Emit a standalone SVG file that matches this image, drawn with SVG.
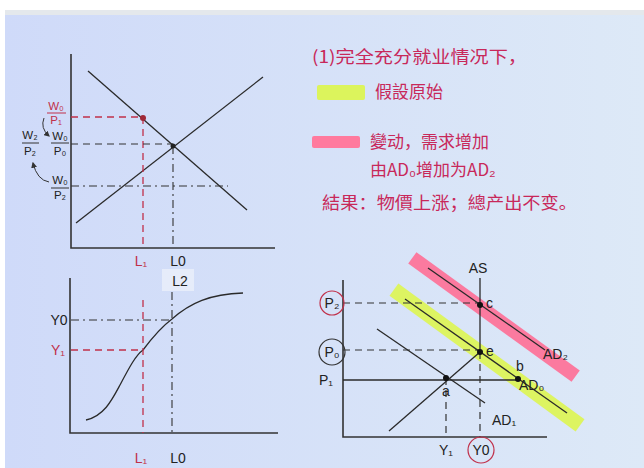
<svg xmlns="http://www.w3.org/2000/svg" width="644" height="468" viewBox="0 0 644 468">
<defs>
<linearGradient id="paper" x1="0" y1="0" x2="1" y2="0">
<stop offset="0" stop-color="#cfdaf9"/>
<stop offset="1" stop-color="#dde9f7"/>
</linearGradient>
<marker id="ah" viewBox="0 0 10 10" refX="8" refY="5" markerWidth="6" markerHeight="6" orient="auto-start-reverse">
<path d="M0,0 L10,5 L0,10 z" fill="#333"/>
</marker>
<style>
.ax{stroke:#333;stroke-width:1.6;fill:none}
.ln{stroke:#2a2a2a;stroke-width:1.3;fill:none}
.dk{stroke:#333;stroke-width:1.2;stroke-dasharray:7 5;fill:none}
.dd{stroke:#333;stroke-width:1.1;stroke-dasharray:8 4 2 4;fill:none}
.dr{stroke:#c0304a;stroke-width:1.3;stroke-dasharray:7 5;fill:none}
.t{font-family:"Liberation Sans","Noto Sans CJK SC",sans-serif;font-size:14px;fill:#222}
.f{font-size:11.5px}
.r{fill:#c0304a}
.cn{font-family:"Noto Sans CJK SC",sans-serif;font-size:17px;fill:#c8285a}
.fb{stroke:#333;stroke-width:1}
.fr{stroke:#c0304a;stroke-width:1}
</style>
</defs>
<rect width="644" height="468" fill="#ffffff"/>
<rect x="5" y="10" width="639" height="5" fill="#e4e8ec"/>
<rect x="5" y="15" width="639" height="453" fill="url(#paper)"/>

<g id="text-block">
<text class="cn" x="312" y="63" textLength="215" lengthAdjust="spacingAndGlyphs">(1)完全充分就业情况下，</text>
<rect x="317" y="85" width="48" height="15" rx="2" fill="#dcf45c"/>
<text class="cn" x="375" y="98">假設原始</text>
<rect x="312" y="136" width="48" height="12" rx="2" fill="#ff7a9e"/>
<text class="cn" x="370" y="148">變动，需求增加</text>
<text class="cn" x="370" y="176">由AD₀增加为AD₂</text>
<text class="cn" x="322" y="209" textLength="255" lengthAdjust="spacingAndGlyphs">結果：物價上涨；總产出不变。</text>
</g>

<g id="labor-market">
<path class="ax" d="M71,54 V248 H275"/>
<line class="ln" x1="88" y1="71" x2="247" y2="210"/>
<line class="ln" x1="76" y1="223" x2="263" y2="77"/>
<path class="dr" d="M71,117 H143 V248"/>
<path class="dk" d="M71,144 H173"/>
<path class="dd" d="M173,146 V248"/>
<path class="dd" d="M71,186 H228"/>
<circle cx="143" cy="118" r="3" fill="#a02838"/>
<circle cx="173" cy="146" r="2.5" fill="#222"/>
<text class="t r f" x="56" y="110" text-anchor="middle">W₀</text>
<line class="fr" x1="47" y1="113" x2="66" y2="113"/>
<text class="t r f" x="56" y="124" text-anchor="middle">P₁</text>
<text class="t f" x="60" y="140" text-anchor="middle">W₀</text>
<line class="fb" x1="51" y1="143" x2="69" y2="143"/>
<text class="t f" x="60" y="155" text-anchor="middle">P₀</text>
<text class="t f" x="30" y="139" text-anchor="middle">W₂</text>
<line class="fb" x1="22" y1="143" x2="39" y2="143"/>
<text class="t f" x="30" y="155" text-anchor="middle">P₂</text>
<text class="t f" x="60" y="184" text-anchor="middle">W₀</text>
<line class="fb" x1="51" y1="188" x2="69" y2="188"/>
<text class="t f" x="60" y="199" text-anchor="middle">P₂</text>
<path d="M44,118 Q40,128 49,136" stroke="#333" stroke-width="1" fill="none" marker-end="url(#ah)"/>
<path d="M49,182 Q37,180 33,163" stroke="#333" stroke-width="1" fill="none" marker-end="url(#ah)"/>
<text class="t r" x="141" y="266" text-anchor="middle" font-size="13">L₁</text>
<text class="t" x="178" y="266" text-anchor="middle">L0</text>
</g>

<g id="production-function">
<path class="ax" d="M70,278 V433 H278"/>
<path class="ln" d="M86,420 C104,416 112,400 120,385 C130,366 136,355 143,350 C152,338 160,328 172,319 C190,303 210,294 243,293"/>
<path class="dd" d="M71,320 H172"/>
<path class="dr" d="M71,350 H143"/>
<path class="dr" d="M143,300 V433"/>
<path class="dd" d="M172,292 V433"/>
<rect x="162" y="269" width="32" height="22" fill="#eef2fb" opacity="0.7"/>
<text class="t" x="180" y="286" text-anchor="middle">L2</text>
<text class="t" x="59" y="325" text-anchor="middle">Y0</text>
<text class="t r" x="58" y="355" text-anchor="middle">Y₁</text>
<text class="t r" x="141" y="463" text-anchor="middle" font-size="13">L₁</text>
<text class="t" x="178" y="463" text-anchor="middle">L0</text>
</g>

<g id="ad-as">
<line x1="418" y1="262" x2="570" y2="372" stroke="#ff6f96" stroke-width="14" stroke-linecap="square" opacity="0.9"/>
<line x1="400" y1="294" x2="574" y2="421" stroke="#def55a" stroke-width="15" stroke-linecap="square" opacity="0.95"/>
<path class="ax" d="M343,280 V437 H547"/>
<line class="ln" x1="480" y1="278" x2="480" y2="352"/>
<path class="dk" d="M480,352 V437"/>
<line class="ln" x1="389" y1="431" x2="480" y2="352"/>
<line class="ln" x1="377" y1="329" x2="485" y2="403"/>
<line class="ln" x1="343" y1="380" x2="518" y2="380"/>
<line class="ln" x1="405" y1="299" x2="567" y2="413"/>
<line class="ln" x1="428" y1="268" x2="545" y2="350"/>
<path class="dk" d="M343,303 H480"/>
<path class="dk" d="M343,350 H480"/>
<path class="dk" d="M446,378 V437"/>
<circle cx="480" cy="305" r="3" fill="#111"/>
<circle cx="480" cy="352" r="3" fill="#111"/>
<circle cx="446" cy="378" r="3" fill="#111"/>
<circle cx="518" cy="379" r="3" fill="#111"/>
<text class="t" x="478" y="273" text-anchor="middle">AS</text>
<text class="t" x="486" y="308">c</text>
<text class="t" x="486" y="356">e</text>
<text class="t" x="446" y="396" text-anchor="middle">a</text>
<text class="t" x="516" y="371" font-size="11">b</text>
<text class="t" x="519" y="390">AD₀</text>
<text class="t" x="543" y="359">AD₂</text>
<text class="t" x="492" y="425">AD₁</text>
<circle cx="332" cy="303" r="12" fill="none" stroke="#c0304a" stroke-width="1.2"/>
<text class="t" x="332" y="308" text-anchor="middle">P₂</text>
<circle cx="332" cy="352" r="13" fill="none" stroke="#333" stroke-width="1.2"/>
<text class="t" x="332" y="357" text-anchor="middle">P₀</text>
<text class="t" x="326" y="385" text-anchor="middle">P₁</text>
<text class="t" x="446" y="455" text-anchor="middle">Y₁</text>
<circle cx="481" cy="450" r="13" fill="none" stroke="#c0304a" stroke-width="1.2"/>
<text class="t" x="481" y="455" text-anchor="middle">Y0</text>
</g>
</svg>
